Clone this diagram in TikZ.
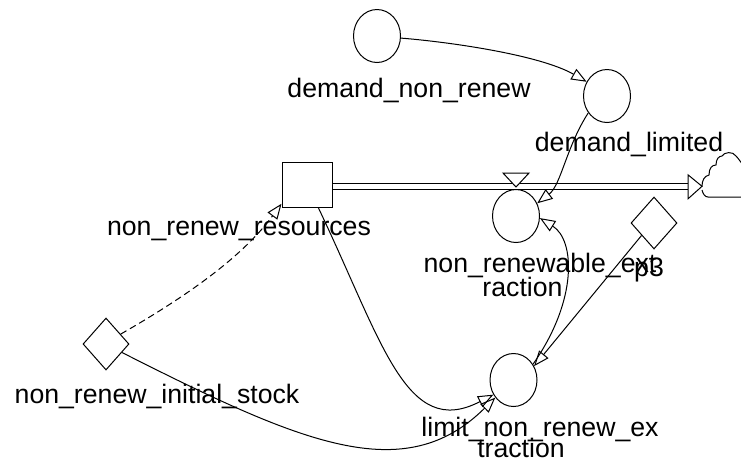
\documentclass[tikz,border=0pt]{standalone}
\usepackage{fontspec}
\setmainfont{Liberation Sans}
\usetikzlibrary{shapes.geometric,arrows.meta}

\begin{document}
\begin{tikzpicture}[x=0.75pt,y=-0.75pt,line width=0.75pt,
  aux/.style={ellipse,draw,inner sep=0pt,minimum width=35.25pt,minimum height=39.75pt},
  level/.style={rectangle,draw,inner sep=0pt,minimum width=37.5pt,minimum height=33.75pt},
  const/.style={diamond,draw,inner sep=0pt,minimum width=34.5pt,minimum height=39pt},
  lbl/.style={anchor=base,inner sep=0pt,font=\fontsize{20}{22}\selectfont},
  link/.style={-{Triangle[open,length=11.5pt,width=9pt]}},
  initlink/.style={link,dash pattern=on 5pt off 3pt},
  pipe/.style={double,double distance=3.75pt},
  flowhead/.style={fill=white,line join=miter}]

\useasboundingbox (0,0) rectangle (741,462);
\clip (0,0) rectangle (741,462);
\fill[white] (0,0) rectangle (741,462);

% stock, flow rate, auxiliaries and constants
\node[level] (res)  at (307,184.5) {};
\node[aux]   (dnr)  at (377,36) {};
\node[aux]   (dl)   at (607,96) {};
\node[aux]   (ext)  at (516,216) {};
\node[aux]   (lim)  at (513.5,380) {};
\node[const] (init) at (106,344) {};
\node[const] (p3)   at (654,223) {};

% labels
\node[lbl] (dnr-l)  at (409,97)  {demand\_non\_renew};
\node[lbl] (dl-l)   at (629,151) {demand\_limited};
\node[lbl] (res-l)  at (239,235) {non\_renew\_resources};
\node[lbl] (init-l) at (157,403) {non\_renew\_initial\_stock};
\node[lbl] (ext-l1) at (540,272) {non\_renewable\_ext};
\node[lbl] (ext-l2) at (522.5,296) {raction};
\node[lbl] (p3-l)   at (649,276) {p3};
\node[lbl] (lim-l1) at (540,436) {limit\_non\_renew\_ex};
\node[lbl] (lim-l2) at (521,457) {traction};

% outflow pipe from the stock into the sink cloud
\coordinate (pipeend) at (688,186.3);
\coordinate (sink) at (702,186.3);
\draw[pipe] (res.east |- pipeend) -- (pipeend);
\draw[flowhead] (688,174.8) -- (sink) -- (688,198.8) -- cycle;
\draw[fill=white,line join=miter] (503,173) -- (529,173) -- (516,187) -- cycle;

% sink cloud
\draw (sink) .. controls (702,181) and (704,176) .. (709,175)
  .. controls (709,168) and (712,165) .. (716,165)
  .. controls (716,159) and (719,156) .. (722,156)
  .. controls (724,152) and (733,151) .. (736,156)
  .. controls (739,159) and (741,163) .. (745,167);
\draw (702,190) .. controls (703,194) and (705,197) .. (708,197) -- (745,197);

% information links
\draw[link] (dnr.-5) .. controls (450,42) and (540,55) .. (dl.145);
\draw[link] (dl.222) .. controls (566.4,146.6) and (561,185) .. (ext.31);
\draw[link] (lim.39) .. controls (578,300) and (575,240) .. (ext.-5);
\draw[link] (p3.225) -- (lim.34);
\draw[link] (res.-64) .. controls (382.5,342) and (406,440) .. (lim.216);
\draw[link] (init.-28) .. controls (301,443) and (404,488) .. (lim.224);
\draw[initlink] (init.34) .. controls (180,300) and (240,260) .. (res.217);

\end{tikzpicture}
\end{document}
